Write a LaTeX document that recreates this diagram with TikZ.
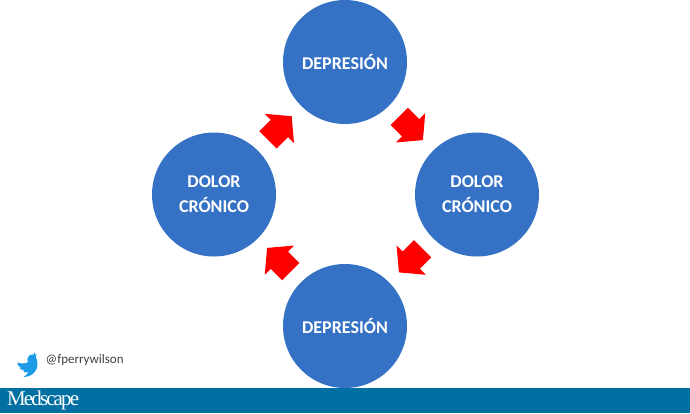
\documentclass[tikz,border=0pt]{standalone}
\usepackage{fontspec}
\setmainfont{Carlito}
\newfontfamily\logofont[LetterSpace=-9]{Liberation Serif}
\usetikzlibrary{calc, shapes.arrows}
\definecolor{circleblue}{HTML}{3572C6}
\definecolor{barblue}{HTML}{006FA1}
\definecolor{birdblue}{HTML}{1D9BE6}
\begin{document}
\begin{tikzpicture}[x=1pt, y=-1pt, line cap=round, line join=round,
	stage/.style={circle, fill=circleblue, minimum size=124pt, inner sep=0pt, text=white, align=center,
		font=\fontsize{18}{25}\selectfont\bfseries},
	flow/.style={single arrow, anchor=tail, fill=red, minimum height=33.5pt, minimum width=41pt, inner sep=0pt, inner ysep=12pt,
		single arrow head extend=8.5pt, single arrow tip angle=100}]
\useasboundingbox (0,0) rectangle (690,413);
%========================
% Cycle
%========================
\node[stage] (deptop) at (345,62) {DEPRESIÓN};
\node[stage] (dolright) at (477,194.5) {DOLOR\\CRÓNICO};
\node[stage] (depbottom) at (345,326) {DEPRESIÓN};
\node[stage] (dolleft) at (214,194.5) {DOLOR\\CRÓNICO};
% block arrows, tail just short of halfway between the circles
\node[flow, rotate=-45] (flowa) at ($(deptop)!76.6pt!(dolright)$) {};
\node[flow, rotate=225] (flowb) at ($(dolright)!76.6pt!(depbottom)$) {};
\node[flow, rotate=135] (flowc) at ($(depbottom)!76.6pt!(dolleft)$) {};
\node[flow, rotate=45] (flowd) at ($(dolleft)!76.6pt!(deptop)$) {};
%========================
% Footer
%========================
\fill[barblue] (0,388) rectangle (690,413);
\node[anchor=west, inner sep=0pt, text=white, font=\fontsize{21}{21}\selectfont\logofont] (logo) at (7,400.5) {Medscape};
\node[anchor=west, inner sep=0pt, text=black!75, font=\fontsize{13}{14}\selectfont] (handle) at (45.5,360) {@fperrywilson};
% bird
\begin{scope}[shift={(14.5,360.5)}, scale=0.95, rotate=28]
	\fill[birdblue] (23.95,4.57) .. controls (23.1,4.95) and (22.1,5.2) .. (21.13,5.35)
	.. controls (22.1,4.75) and (22.9,3.8) .. (23.29,2.62)
	.. controls (22.34,3.18) and (21.29,3.58) .. (20.16,3.81)
	.. controls (18.9,2.4) and (16.6,2.1) .. (14.9,3.2)
	.. controls (13.1,4.3) and (11.3,6.2) .. (11.78,8.29)
	.. controls (7.69,8.1) and (4.07,6.13) .. (1.64,3.16)
	.. controls (1.2,3.9) and (0.97,4.75) .. (0.97,5.64)
	.. controls (0.97,7.35) and (1.84,8.85) .. (3.16,9.73)
	.. controls (2.35,9.71) and (1.6,9.48) .. (0.93,9.12)
	-- (0.93,9.18)
	.. controls (0.93,11.55) and (2.62,13.55) .. (4.88,14)
	.. controls (4.17,14.2) and (3.4,14.23) .. (2.67,14.09)
	.. controls (3.3,16.05) and (5.1,17.45) .. (7.27,17.51)
	.. controls (5.6,18.85) and (3.45,19.61) .. (1.17,19.61)
	.. controls (0.78,19.61) and (0.39,19.59) .. (0,19.54)
	.. controls (2.2,20.95) and (4.8,21.75) .. (7.56,21.75)
	.. controls (16.61,21.75) and (21.56,14.26) .. (21.56,7.77)
	.. controls (21.56,7.56) and (21.56,7.35) .. (21.54,7.14)
	.. controls (22.5,6.45) and (23.35,5.55) .. (24,4.59) -- cycle;
\end{scope}
\end{tikzpicture}
\end{document}
